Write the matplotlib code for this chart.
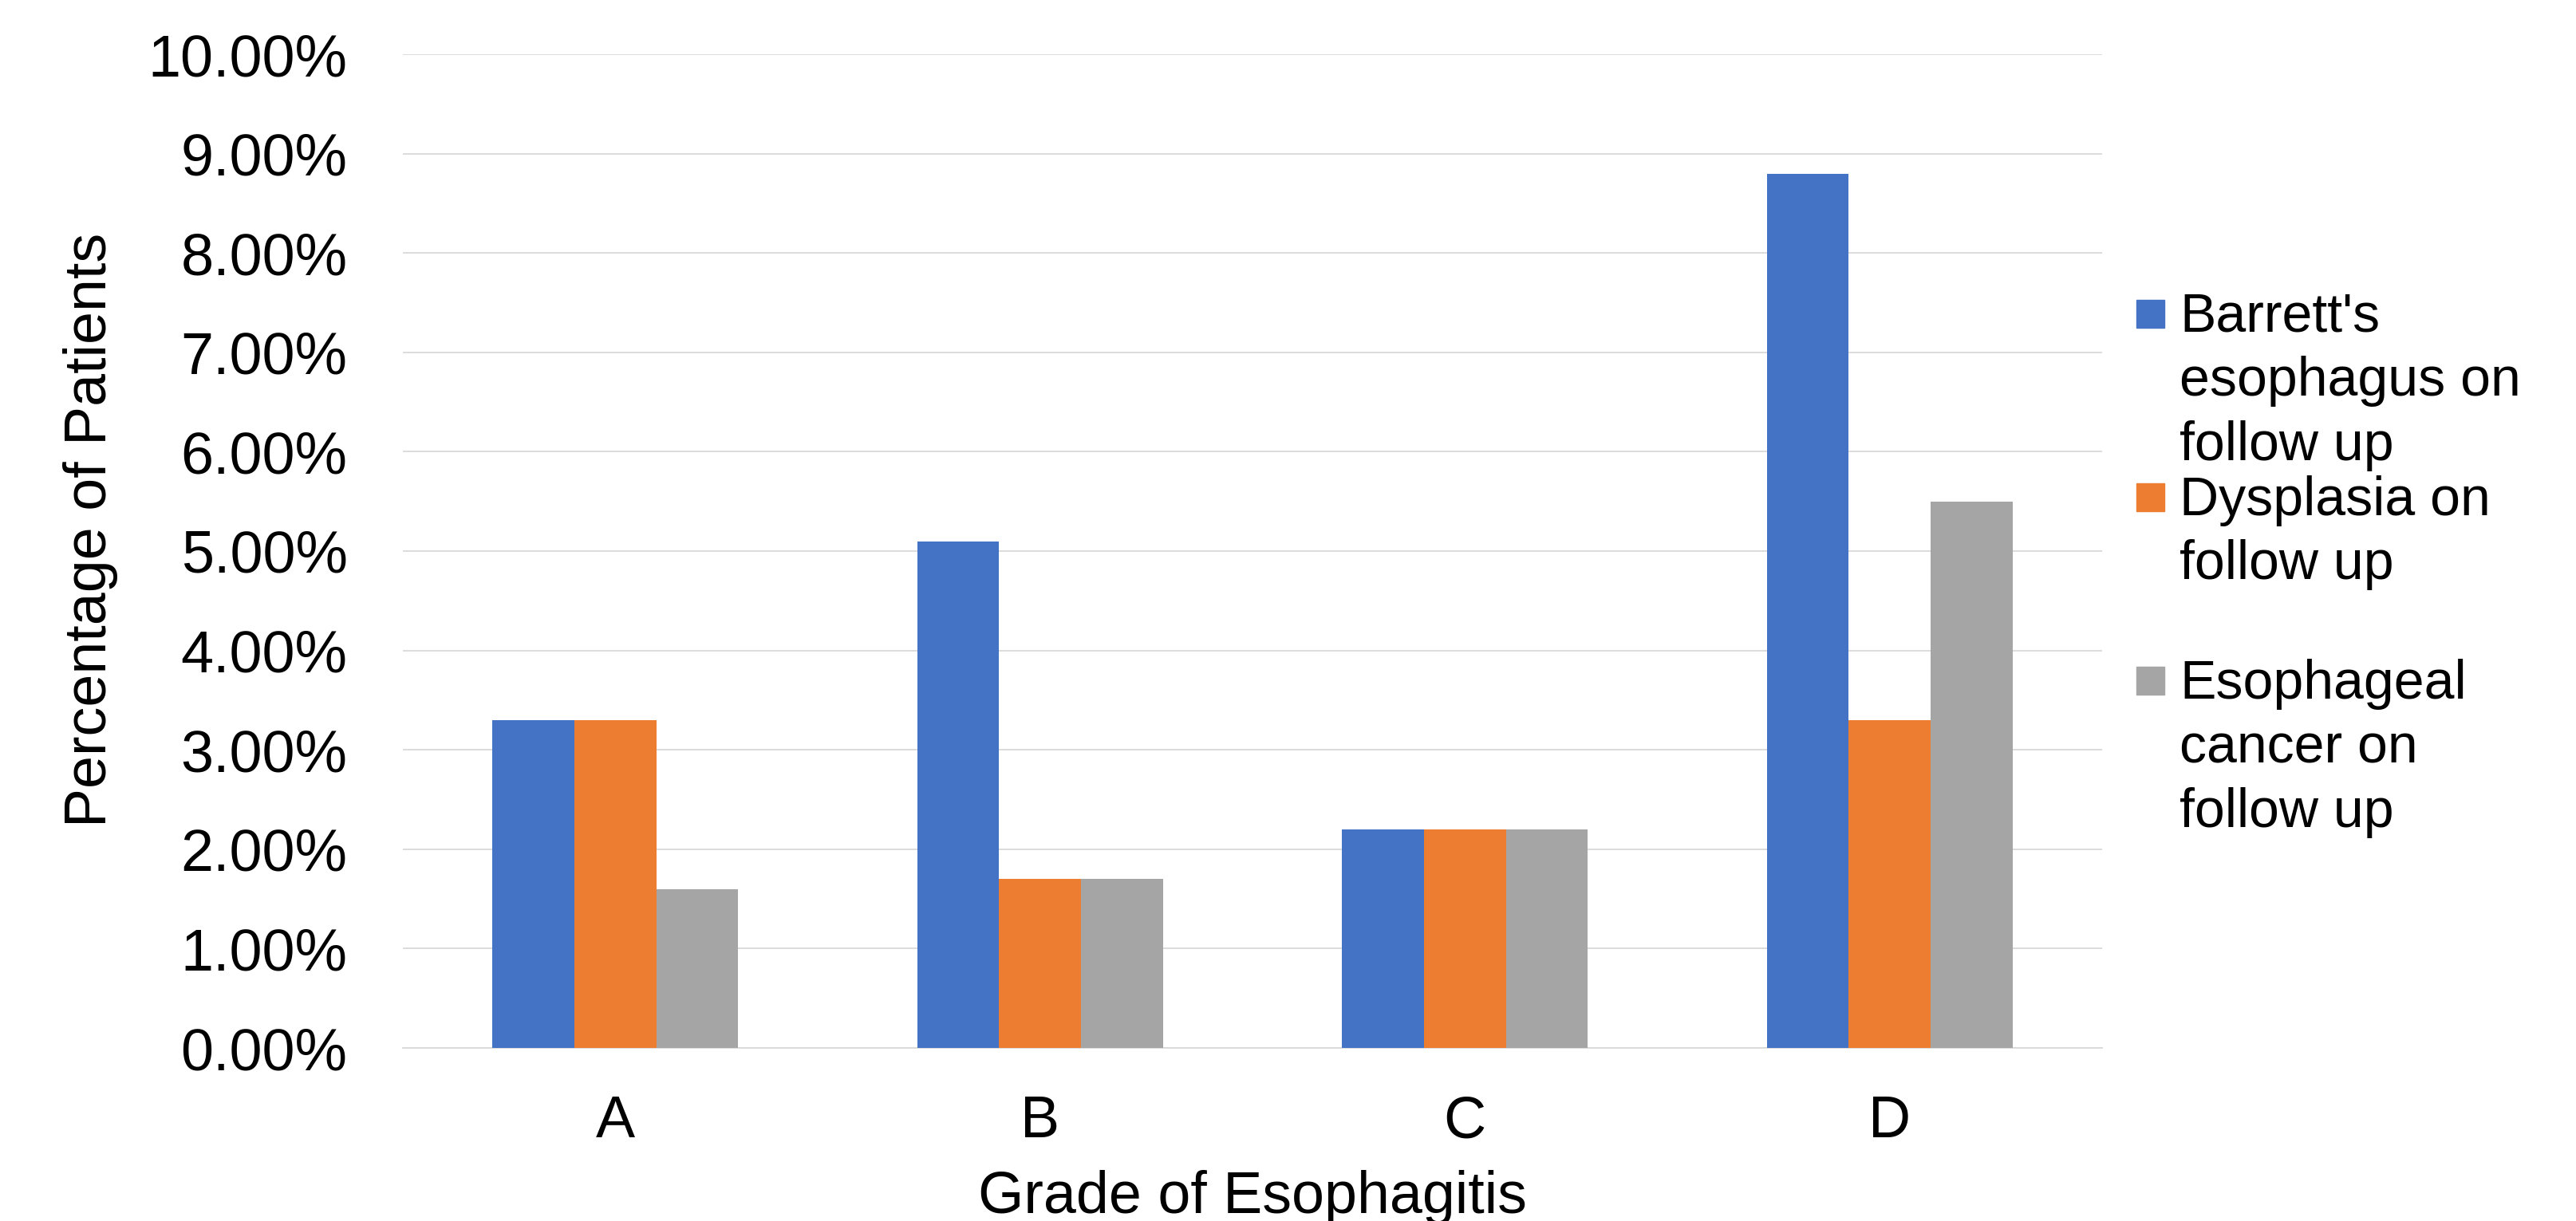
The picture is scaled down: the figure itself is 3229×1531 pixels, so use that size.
import numpy as np
import matplotlib
matplotlib.use("Agg")
import matplotlib.pyplot as plt
from matplotlib.patches import Rectangle
from matplotlib.ticker import FuncFormatter

plt.rcParams['font.family'] = ['Liberation Sans', 'DejaVu Sans']

# data (percent of patients)
grades = ['A', 'B', 'C', 'D']
series_names = ["Barrett's\nesophagus on\nfollow up",
                "Dysplasia on\nfollow up",
                "Esophageal\ncancer on\nfollow up"]
barretts = [3.3, 5.1, 2.2, 8.8]
dysplasia = [3.3, 1.7, 2.2, 3.3]
cancer = [1.6, 1.7, 2.2, 5.5]
y_ticks = [0, 1, 2, 3, 4, 5, 6, 7, 8, 9, 10]

colors = ['#4472C4', '#ED7D31', '#A5A5A5']

W, H = 3230, 1531
fig = plt.figure(figsize=(W / 100, H / 100), dpi=100)
ax = fig.add_axes([505 / W, 1 - 1314 / H, 2130 / W, 1246 / H])

x = np.arange(len(grades))
bw = 1 / (3 + 2.19)
for k, vals in enumerate([barretts, dysplasia, cancer]):
    ax.bar(x + (k - 1) * bw, vals, width=bw, color=colors[k], linewidth=0, zorder=3)

ax.set_xlim(-0.5, len(grades) - 0.5)
ax.set_ylim(0, 10)
ax.set_yticks(y_ticks)
ax.yaxis.set_major_formatter(FuncFormatter(lambda v, p: '%.2f%%' % v))
ax.set_xticks(x)
ax.set_xticklabels(grades)
ax.grid(axis='y', color='#D9D9D9', linewidth=1.3, zorder=0)
ax.set_axisbelow(True)
for s in ['left', 'right', 'top']:
    ax.spines[s].set_visible(False)
ax.spines['bottom'].set_color('#D9D9D9')
ax.spines['bottom'].set_linewidth(1.3)
ax.tick_params(axis='y', length=0, pad=50, labelsize=53)
ax.tick_params(axis='x', length=0, pad=42, labelsize=53)

ax.set_xlabel('Grade of Esophagitis', fontsize=53)
ax.xaxis.set_label_coords(0.5, -0.1228)
ax.set_ylabel('Percentage of Patients', fontsize=53)
ax.yaxis.set_label_coords(-0.1678, 0.5217)

# legend, one slot of three lines per entry
for k, name in enumerate(series_names):
    top = 376 + 230 * k
    fig.patches.append(Rectangle((2678 / W, 1 - (top + 35) / H), 35 / W, 35 / H,
                                 transform=fig.transFigure, color=colors[k]))
    fig.text(2732 / W, 1 - (top - 10) / H, name, ha='left', va='top',
             fontsize=49, linespacing=1.33)

fig.savefig('out.png', dpi=100)
